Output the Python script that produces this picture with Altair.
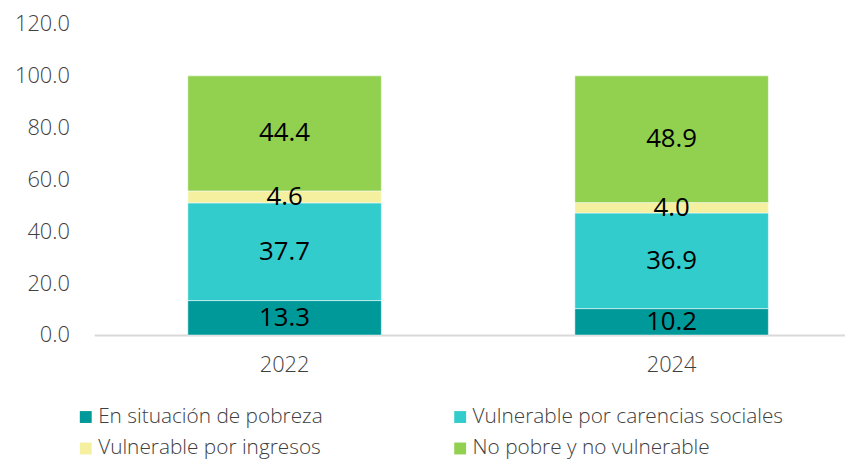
import altair as alt
import pandas as pd

years = ["2022", "2024"]
categories = [
    "En situación de pobreza",
    "Vulnerable por carencias sociales",
    "Vulnerable por ingresos",
    "No pobre y no vulnerable",
]
values_2022 = [13.3, 37.7, 4.6, 44.4]
values_2024 = [10.2, 36.9, 4.0, 48.9]
colors = ["#009999", "#33CCCC", "#F5F0A0", "#92D050"]
y_ticks = [0, 20, 40, 60, 80, 100, 120]

rows = []
for yr, vals in zip(years, [values_2022, values_2024]):
    for i, (c, v) in enumerate(zip(categories, vals)):
        rows.append({"year": yr, "cat": c, "value": v, "order": i})
df = pd.DataFrame(rows)

FONT = "Open Sans"

base = (
    alt.Chart(df)
    .transform_stack(
        stack="value",
        groupby=["year"],
        as_=["v0", "v1"],
        sort=[alt.SortField("order", "ascending")],
    )
    .transform_calculate(mid="(datum.v0 + datum.v1) / 2")
)

x_enc = alt.X(
    "year:N",
    sort=years,
    scale=alt.Scale(paddingInner=0.5, paddingOuter=0.22, align=0.55),
    axis=alt.Axis(
        title=None,
        labelAngle=0,
        ticks=False,
        domainColor="#D9D9D9",
        domainWidth=2,
        labelPadding=20,
        labelFontSize=22,
        labelColor="#404040",
        labelFont=FONT,
        labelFontWeight=300,
    ),
)

bars = base.mark_bar(stroke="#ffffff", strokeWidth=1, strokeOpacity=0.5).encode(
    x=x_enc,
    y=alt.Y(
        "v0:Q",
        scale=alt.Scale(domain=[0, 120]),
        axis=alt.Axis(
            title=None,
            values=y_ticks,
            format=".1f",
            grid=False,
            domain=False,
            ticks=False,
            labelPadding=25,
            labelFontSize=22,
            labelColor="#404040",
            labelFont=FONT,
            labelFontWeight=300,
        ),
    ),
    y2="v1:Q",
    color=alt.Color(
        "cat:N",
        scale=alt.Scale(domain=categories, range=colors),
        legend=alt.Legend(
            title=None,
            orient="none",
            direction="horizontal",
            legendX=-19,
            legendY=386,
            columns=2,
            columnPadding=128,
            rowPadding=10,
            symbolType="square",
            symbolSize=144,
            symbolStrokeWidth=0,
            labelFontSize=21,
            labelOffset=2,
            labelFont=FONT,
            labelFontWeight=300,
            labelColor="#404040",
            labelLimit=500,
        ),
    ),
    order=alt.Order("order:Q"),
)

labels = base.mark_text(
    fontSize=26, font=FONT, color="#000000", baseline="middle", align="center"
).encode(
    x=alt.X("year:N", sort=years),
    y=alt.Y("mid:Q"),
    text=alt.Text("value:Q", format=".1f"),
)

chart = (
    alt.layer(bars, labels)
    .properties(
        width=758,
        height=314,
        autosize=alt.AutoSizeParams(type="none"),
        padding={"left": 87, "top": 14, "right": 0, "bottom": 129},
    )
    .configure_view(stroke=None)
)

chart.save("out.html", embed_options={"renderer": "svg", "actions": False})
